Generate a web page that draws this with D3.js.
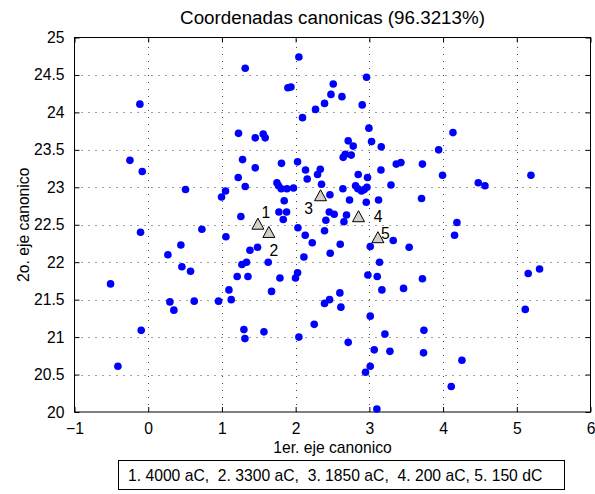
<!DOCTYPE html>
<html><head><meta charset="utf-8">
<script src="https://cdn.jsdelivr.net/npm/d3@7"></script>
<style>
html,body{margin:0;padding:0;background:#fff;}
svg{display:block;font-family:"Liberation Sans",Arial,Helvetica,sans-serif;}
</style></head>
<body>
<svg id="chart" width="595" height="494"></svg>
<script>
// ---- data ----
const pointsX = [1.316,-0.113,1.225,-0.248,1.28,-0.081,1.221,1.316,0.506,1.049,0.995,1.257,0.728,2.044,2.962,1.895,1.936,2.51,2.479,2.628,2.392,2.27,2.903,2.093,2.994,1.452,1.56,1.587,3.03,3.161,2.713,2.781,2.673,2.645,2.754,1.452,1.808,2.026,2.134,2.157,2.334,2.297,2.351,2.849,2.975,3.157,3.365,3.428,3.293,3.72,1.746,1.768,1.804,1.882,1.971,1.845,1.773,1.877,1.832,2.031,2.465,2.641,2.731,2.813,2.845,2.894,2.93,2.967,2.958,3.125,2.41,2.456,2.523,2.655,2.69,4.134,3.94,3.993,4.477,4.568,5.192,3.708,4.188,-0.104,1.054,0.443,0.267,1.38,1.483,0.457,0.574,1.271,1.334,-0.511,1.207,1.353,1.095,0.294,0.348,0.624,0.954,1.126,-0.095,1.298,1.312,-0.411,1.628,1.787,1.673,2.13,2.225,2.392,2.112,2.469,2.605,2.026,1.998,1.57,2.044,2.252,2.392,2.46,2.60,2.614,2.713,3.012,3.324,3.54,3.138,2.98,3.107,3.17,3.464,3.72,3.012,3.211,3.066,3.279,3.012,2.948,3.102,3.74,3.735,4.156,5.155,5.309,5.115,4.256,4.111];
const pointsY = [24.59,24.11,23.72,23.36,23.37,23.21,23.13,23.01,22.97,22.95,22.87,22.61,22.44,24.74,24.47,24.33,24.34,24.38,24.24,24.21,24.12,24.04,24.10,23.93,23.79,23.66,23.71,23.66,23.61,23.54,23.62,23.55,23.44,23.40,23.43,23.26,23.32,23.34,23.23,23.11,23.24,23.17,23.04,23.17,23.13,23.23,23.31,23.33,23.03,23.31,23.06,23.02,22.98,22.98,22.99,22.82,22.67,22.67,22.57,22.46,22.90,22.98,22.83,23.02,22.98,22.95,22.97,23.00,22.80,22.83,22.56,22.67,22.64,22.54,22.63,23.73,23.50,23.16,23.06,23.02,23.16,22.85,22.53,22.40,22.34,22.23,22.10,22.16,22.20,21.94,21.88,21.97,22.00,21.71,21.81,21.81,21.63,21.47,21.36,21.48,21.48,21.50,21.09,21.10,20.98,20.61,22.00,21.79,21.61,22.36,22.26,22.42,22.07,22.12,22.24,21.86,21.79,21.07,21.00,21.17,21.45,21.50,21.59,21.40,20.93,22.21,22.29,22.20,22.00,21.83,21.81,21.63,21.65,21.78,21.28,21.04,20.83,20.81,20.61,20.53,20.04,21.09,20.79,22.36,21.85,21.91,21.37,20.69,20.34];
const centroidLabels = ["1","2","3","4","5"];
const centroidX = [1.488,1.637,2.338,2.853,3.116];
const centroidY = [22.51,22.40,22.89,22.61,22.33];
const xTicks = [-1,0,1,2,3,4,5,6];
const yTicks = [20,20.5,21,21.5,22,22.5,23,23.5,24,24.5,25];
const titleText = "Coordenadas canonicas (96.3213%)";
const xLabelText = "1er. eje canonico";
const yLabelText = "2o. eje canonico";
const legendText = "1. 4000 aC,  2. 3300 aC,  3. 1850 aC,  4. 200 aC, 5. 150 dC";

// ---- layout ----
const L = 74.5, R = 590.5, T = 37.5, B = 412;
const labelOffsets = [[8,-12],[5,18],[-12,13],[19.5,0],[7.5,-4]];

const svg = d3.select("#chart");
const x = d3.scaleLinear().domain([-1,6]).range([L,R]);
const y = d3.scaleLinear().domain([20,25]).range([B,T]);

// grid
const grid = svg.append("g").attr("stroke","#444").attr("stroke-width",1).attr("stroke-dasharray","1,6");
grid.selectAll("line.vx").data(xTicks.slice(1,-1)).enter().append("line")
  .attr("x1",d=>Math.round(x(d))+0.5).attr("x2",d=>Math.round(x(d))+0.5).attr("y1",B).attr("y2",T);
grid.selectAll("line.hy").data(yTicks.slice(1,-1)).enter().append("line")
  .attr("y1",d=>Math.round(y(d))+0.5).attr("y2",d=>Math.round(y(d))+0.5).attr("x1",L).attr("x2",R);

// axes (ticks inward)
const fs = 15.7;
const xAxis = d3.axisBottom(x).tickValues(xTicks).tickSize(-5).tickPadding(11).tickFormat(d3.format("d"));
const yAxis = d3.axisLeft(y).tickValues(yTicks).tickSize(-5).tickPadding(10).tickFormat(d=>String(d));
const gx = svg.append("g").attr("transform",`translate(0,${B})`).call(xAxis);
const gy = svg.append("g").attr("transform",`translate(${L},0)`).call(yAxis);
const gxt = svg.append("g").attr("transform",`translate(0,${T})`).call(d3.axisTop(x).tickValues(xTicks).tickSize(-5).tickFormat(""));
const gyr = svg.append("g").attr("transform",`translate(${R},0)`).call(d3.axisRight(y).tickValues(yTicks).tickSize(-5).tickFormat(""));
[gx,gy,gxt,gyr].forEach(g=>{
  g.select(".domain").remove();
  g.selectAll(".tick line").attr("stroke","#000");
  g.selectAll("text").attr("fill","#000").style("font-size",fs+"px").style("font-family",'"Liberation Sans",Arial,sans-serif');
});

// box
svg.append("rect").attr("x",L).attr("y",T).attr("width",R-L).attr("height",B-T)
  .attr("fill","none").attr("stroke","#000").attr("stroke-width",1);

// points
const pts = pointsX.map((v,i)=>({x:v,y:pointsY[i]}));
svg.append("g").selectAll("circle").data(pts).enter().append("circle")
  .attr("cx",d=>x(d.x)).attr("cy",d=>y(d.y)).attr("r",3.8).attr("fill","#0000ff");

// centroids
const cents = centroidX.map((v,i)=>({x:v,y:centroidY[i],label:centroidLabels[i],off:labelOffsets[i]}));
const tri = d3.symbol().type(d3.symbolTriangle).size(62);
svg.append("g").selectAll("path").data(cents).enter().append("path")
  .attr("d",()=>"M0,-5.8L6,5.2L-6,5.2Z")
  .attr("transform",d=>`translate(${x(d.x)},${y(d.y)})`)
  .attr("fill","#d4d0c8").attr("stroke","#000").attr("stroke-width",1);
svg.append("g").selectAll("text").data(cents).enter().append("text")
  .attr("x",d=>x(d.x)+d.off[0]).attr("y",d=>y(d.y)+d.off[1])
  .attr("text-anchor","middle").attr("dominant-baseline","central")
  .style("font-size",fs+"px").text(d=>d.label);

// title & labels
svg.append("text").attr("x",(L+R)/2).attr("y",24).attr("text-anchor","middle")
  .style("font-size","18.8px").text(titleText);
svg.append("text").attr("x",(L+R)/2).attr("y",453).attr("text-anchor","middle")
  .style("font-size",fs+"px").text(xLabelText);
svg.append("text").attr("transform",`translate(29,${(T+B)/2}) rotate(-90)`).attr("text-anchor","middle")
  .style("font-size",fs+"px").text(yLabelText);

// legend box
svg.append("rect").attr("x",118.5).attr("y",460.5).attr("width",446).attr("height",29)
  .attr("fill","#fff").attr("stroke","#000").attr("stroke-width",1);
svg.append("text").attr("x",128).attr("y",481).attr("xml:space","preserve").style("white-space","pre")
  .style("font-size",fs+"px").text(legendText);
</script>
</body></html>
